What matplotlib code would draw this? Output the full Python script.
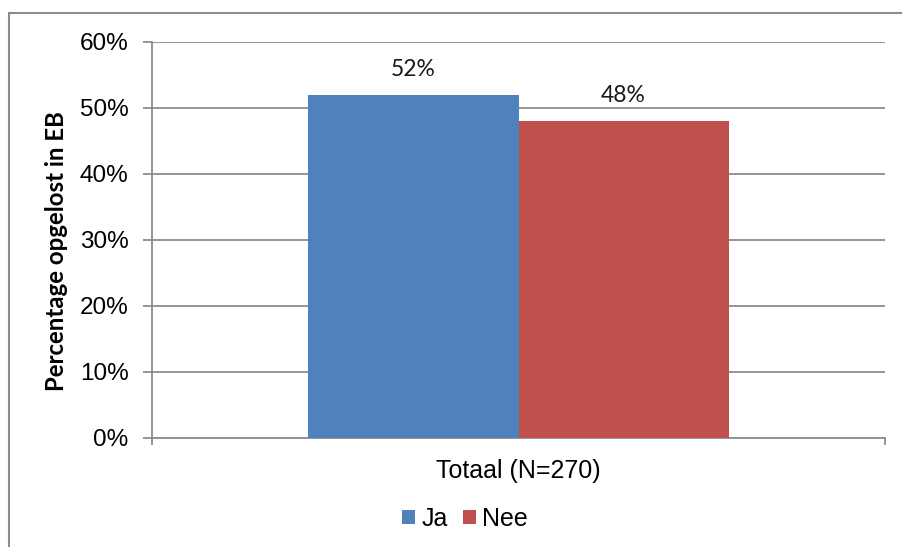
import matplotlib
matplotlib.use('Agg')
import matplotlib.pyplot as plt
from matplotlib.patches import Rectangle, Patch
from matplotlib.ticker import PercentFormatter, FixedLocator
import numpy as np

# data
categories = ['Totaal (N=270)']
series_names = ['Ja', 'Nee']
series_values = [[0.52], [0.48]]
series_colors = ['#4F81BD', '#C0504D']
y_ticks = [0.0, 0.1, 0.2, 0.3, 0.4, 0.5, 0.6]

plt.rcParams['font.family'] = ['Liberation Sans', 'DejaVu Sans']

fig = plt.figure(figsize=(9.02, 5.47), dpi=100)
ax = fig.add_axes([152 / 902, 1 - 438 / 547, (885 - 152) / 902, (438 - 42) / 547])

grid_color = '#8c8c8c'
bar_w = 0.2865
x = np.arange(len(categories))
for i, (name, vals) in enumerate(zip(series_names, series_values)):
    offs = (i - (len(series_names) - 1) / 2) * bar_w
    bars = ax.bar(x + offs, vals, bar_w, color=series_colors[i], label=name, zorder=3)
    for b, v in zip(bars, vals):
        ax.annotate('%d%%' % round(v * 100), (b.get_x() + b.get_width() / 2, v),
                    xytext=(0, 11), textcoords='offset points', ha='center', va='bottom',
                    fontsize=16.5, family='Lato', color='#1a1a1a')

ax.set_xlim(-0.5, len(categories) - 0.5)
ax.set_ylim(0, 0.6)
ax.set_yticks(y_ticks)
ax.yaxis.set_major_formatter(PercentFormatter(1.0, decimals=0))
ax.yaxis.grid(True, color=grid_color, linewidth=1.3, zorder=0)
ax.set_axisbelow(True)

ax.set_xticks(x)
ax.set_xticklabels(categories)
ax.xaxis.set_minor_locator(FixedLocator(np.arange(len(categories) + 1) - 0.5))
ax.tick_params(axis='x', which='major', length=0, pad=15, labelsize=18)
ax.tick_params(axis='x', which='minor', length=5, width=1.3, color=grid_color)
ax.tick_params(axis='y', length=6.5, width=1.3, color=grid_color, pad=10.5, labelsize=17.5)

for s in ['top', 'right']:
    ax.spines[s].set_visible(False)
for s in ['left', 'bottom']:
    ax.spines[s].set_color(grid_color)
    ax.spines[s].set_linewidth(1.3)

fig.text(56 / 902, 1 - 251 / 547, 'Percentage opgelost in EB', rotation=90,
         ha='center', va='center', fontsize=17.3, fontweight='bold', family='Lato')

handles = [Patch(facecolor=c, label=n) for n, c in zip(series_names, series_colors)]
fig.legend(handles=handles, loc='center', bbox_to_anchor=(465 / 902, 1 - 519 / 547),
           ncol=2, frameon=False, fontsize=18, handlelength=0.52, handleheight=0.52,
           handletextpad=0.25, columnspacing=0.6)

fig.patches.append(Rectangle((9 / 902, -0.1), 2, (1 - 13 / 547) + 0.1, transform=fig.transFigure,
                             fill=False, edgecolor=grid_color, linewidth=1.5))

fig.savefig('out.png', dpi=100)
